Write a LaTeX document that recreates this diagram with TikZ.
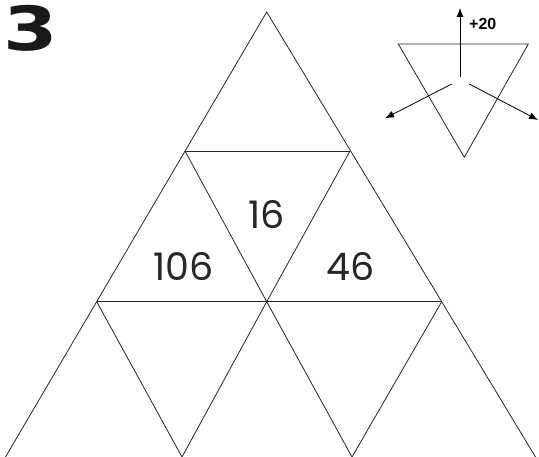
\documentclass[tikz,border=0pt]{standalone}
\usepackage{fontspec}
\usepackage{tikz}
\usetikzlibrary{arrows.meta,calc}
\newfontfamily\numfont{Poppins}
\newfontfamily\boldfont{Liberation Sans}
\newfontfamily\heavyfont{DejaVu Sans}
\tikzset{>=latex}
\tikzset{
  gridline/.style={line width=0.8pt, black!85},
  num/.style={inner sep=0pt, font=\numfont\fontsize{38}{40}\selectfont, text=black!85},
  arr/.style={line width=0.8pt, -{Latex[length=9pt,width=7pt]}}
}

\begin{document}
\begin{tikzpicture}[x=1pt,y=-1pt]
	\useasboundingbox (0,0) rectangle (539,457);
	% corners of the grid
	\coordinate (top) at (266.7,12);
	\coordinate (b1) at (185,151);
	\coordinate (b2) at (350,151);
	\coordinate (c1) at (96.7,301.7);
	\coordinate (c2) at (266.7,301.7);
	\coordinate (c3) at (441.7,301.7);
	\coordinate (d1) at (5.5,457);
	\coordinate (d2) at (182,457);
	\coordinate (d3) at (352,457);
	\coordinate (d4) at (535.5,457);
	% big triangle and rows
	\draw[gridline] (d1) -- (top) -- (d4);
	\draw[gridline] (b1) -- (b2);
	\draw[gridline] (c1) -- (c3);
	\draw[gridline] (b1) -- (c2) -- (b2);
	\draw[gridline] (c1) -- (d2) -- (c2) -- (d3) -- (c3);
	% numbers
	\node[num] (n16) at (266.5,215) {16};
	\node[num] (n106) at (183.5,266.5) {106};
	\node[num] (n46) at (351,266.5) {46};
	% puzzle number
	\node[inner sep=0pt, xscale=1.35, yscale=1.05, text=black!90, font=\heavyfont\bfseries\fontsize{58}{58}\selectfont] (pnum) at (31,28.5) {3};
	% key in the corner
	\coordinate (k1) at (398.3,44);
	\coordinate (k2) at (528.3,44);
	\coordinate (k3) at (464.3,157.3);
	\draw[gridline] (k1) -- (k2) -- (k3) -- cycle;
	\coordinate (up0) at (460,77.3);
	\coordinate (up1) at (460,8);
	\coordinate (lf0) at (451.7,84);
	\coordinate (lf1) at (385,118.3);
	\coordinate (rt0) at (469.3,84);
	\coordinate (rt1) at (538,120);
	\draw[arr] (up0) -- (up1);
	\draw[arr] (lf0) -- (lf1);
	\draw[arr] (rt0) -- (rt1);
	\node[inner sep=0pt, anchor=west, font=\boldfont\bfseries\fontsize{16}{16}\selectfont] (plus) at (469,24) {+20};
\end{tikzpicture}
\end{document}
